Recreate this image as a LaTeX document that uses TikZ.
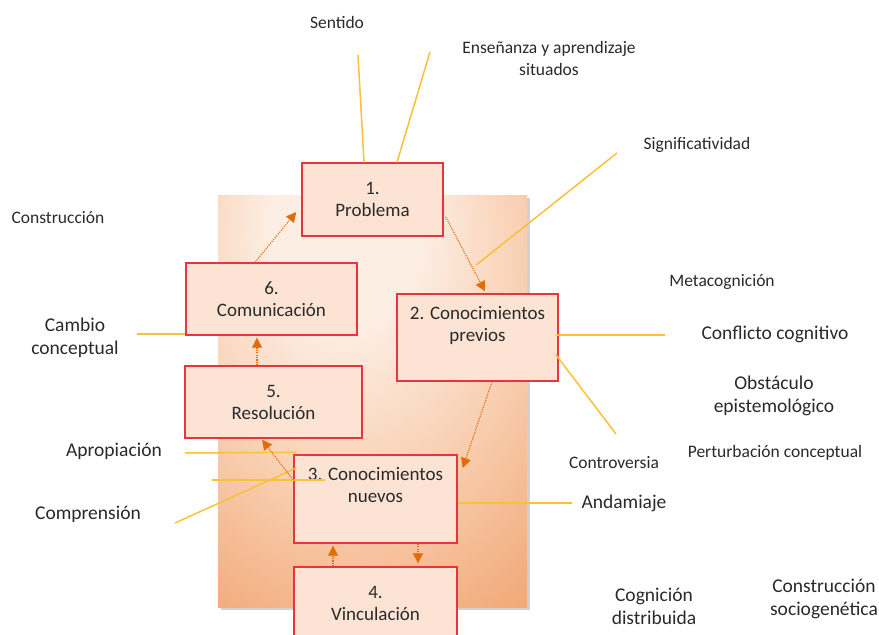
\documentclass[tikz,border=0pt]{standalone}
\usepackage{fontspec}
\setmainfont{Carlito}
\usetikzlibrary{arrows.meta,shadows,calc}
\definecolor{boxred}{HTML}{E8353D}
\definecolor{boxfill}{HTML}{FCE3D3}
\definecolor{arroworange}{HTML}{E36C0A}
\definecolor{lineyellow}{HTML}{F9C13A}
\definecolor{txt}{HTML}{2A2A2A}
\definecolor{bgin}{HTML}{FDEEE4}
\definecolor{bgmid}{HTML}{F8CCAC}
\definecolor{bgout}{HTML}{EC8C4C}
\pgfdeclareradialshading{bgshade}{\pgfpoint{-5bp}{24bp}}{color(0bp)=(bgin); color(12bp)=(bgin); color(30bp)=(bgmid); color(60bp)=(bgout); color(100bp)=(bgout)}
\begin{document}
\begin{tikzpicture}[x=1pt,y=-1pt,
  box/.style={draw=boxred, line width=1.4pt, fill=boxfill, inner sep=0pt, text=txt,
    font=\fontsize{19}{22}\selectfont, align=center},
  boxtext/.style={text=txt, font=\fontsize{19}{22}\selectfont, align=center, inner sep=0pt},
  lbl/.style={text=txt, font=\fontsize{17.5}{22}\selectfont, align=center, inner sep=0pt},
  lblbig/.style={text=txt, font=\fontsize{19.5}{23}\selectfont, align=center, inner sep=0pt},
  flow/.style={arroworange, line width=1.1pt, dash pattern=on 1.2pt off 1.2pt,
    -{Triangle[width=10pt,length=10pt]}},
  yline/.style={lineyellow, line width=1.5pt}]
\useasboundingbox (0,0) rectangle (879,635);
\clip (0,0) rectangle (879,635);
\fill[white] (0,0) rectangle (879,635);

% background panel
\path[shade, shading=bgshade, drop shadow={shadow xshift=3pt, shadow yshift=-3pt, opacity=0.35}]
  (218,195) rectangle (527,607);

% labels
\node[lbl] (sentido) at (337,22) {Sentido};
\node[lbl] (ensenanza) at (549,58) {Enseñanza y aprendizaje\\situados};
\node[lbl] (signif) at (697,145) {Significatividad};
\node[lbl] (construccion) at (58,218) {Construcción};
\node[lbl] (metacog) at (722,282) {Metacognición};
\node[lblbig] (conflicto) at (775,334) {Conflicto cognitivo};
\node[lblbig] (obstaculo) at (774,396) {Obstáculo\\epistemológico};
\node[lbl] (perturb) at (775,453) {Perturbación conceptual};
\node[lbl] (controv) at (614,463) {Controversia};
\node[lblbig] (andamiaje) at (624,503) {Andamiaje};
\node[lblbig] (cognicion) at (654,606) {Cognición\\distribuida};
\node[lblbig] (sociogen) at (824,599) {Construcción\\sociogenética};
\node[lblbig] (cambio) at (75,338) {Cambio\\conceptual};
\node[lblbig] (apropiacion) at (114,451) {Apropiación};
\node[lblbig] (comprension) at (88,514) {Comprensión};

% boxes
\node[box, minimum width=141pt, minimum height=73pt] (b1) at (372.5,199.5) {1.\\Problema};
\node[box, minimum width=171pt, minimum height=72pt] (b6) at (271.5,299) {6.\\Comunicación};
\node[box, minimum width=161pt, minimum height=87pt] (b2) at (477.5,337.5) {};
\node[boxtext] (t2) at (477.5,325) {2. Conocimientos\\previos};
\node[box, minimum width=177pt, minimum height=72pt] (b5) at (273.5,402) {5.\\Resolución};
\node[box, minimum width=163pt, minimum height=88pt] (b3) at (375.5,499) {};
\node[boxtext] (t3) at (375.5,485) {3. Conocimientos\\nuevos};
\node[box, minimum width=163pt, minimum height=72pt] (b4) at (375.5,603) {4.\\Vinculación};

% free ends of the yellow lines
\coordinate (eSentido) at (358,55);
\coordinate (eEns) at (430,52);
\coordinate (eSig) at (617,153);
\coordinate (eCambio) at (137,334);
\coordinate (eConf) at (665,335);
\coordinate (eControv) at (616,434);
\coordinate (eAnd) at (572,503);
\coordinate (eApro) at (185,453);
\coordinate (eLine2a) at (212,480);
\coordinate (eLine2b) at (325,480);
\coordinate (eComp) at (175,523);

% yellow lines
\draw[yline] (eSentido) -- ([xshift=-8.5pt]b1.north);
\draw[yline] (eEns) -- ([xshift=24.5pt]b1.north);
\draw[yline] (eSig) -- ($(b1.south east)!0.5!(b2.north east)+(-25,0)$);
\draw[yline] (eCambio) -- ([yshift=-35pt]b6.west);
\draw[yline] ([xshift=-3pt,yshift=2.5pt]b2.east) -- (eConf);
\draw[yline] ([xshift=-3pt,yshift=-17pt]b2.east) -- (eControv);
\draw[yline] ([yshift=-4pt]b3.east) -- (eAnd);
\draw[yline] (eApro) -- ([xshift=3pt,yshift=2pt]b3.north west);
\draw[yline] (eLine2a) -- (eLine2b);
\draw[yline] (eComp) -- ([xshift=3pt,yshift=31pt]b3.west);

% flow arrows
\draw[flow] ([xshift=-16.5pt]b6.north) -- ([xshift=-5pt,yshift=-12.5pt]b1.west);
\draw[flow] ([xshift=2pt,yshift=-17.5pt]b1.east) -- ([xshift=7.5pt,yshift=2pt]b2.north);
\draw[flow] ([xshift=14.5pt]b2.south) -- ([xshift=5pt,yshift=31pt]b3.east);
\draw[flow] ([yshift=19pt]b3.west) -- ([xshift=-11.5pt,yshift=-1pt]b5.south);
\draw[flow] ([xshift=-16.5pt]b5.north) -- ([xshift=-14.5pt,yshift=-2pt]b6.south);
\draw[flow] ([xshift=-42.5pt]b4.north) -- ([xshift=-42.5pt,yshift=-2pt]b3.south);
\draw[flow] ([xshift=42.5pt]b3.south) -- ([xshift=42.5pt,yshift=3pt]b4.north);
\end{tikzpicture}
\end{document}
